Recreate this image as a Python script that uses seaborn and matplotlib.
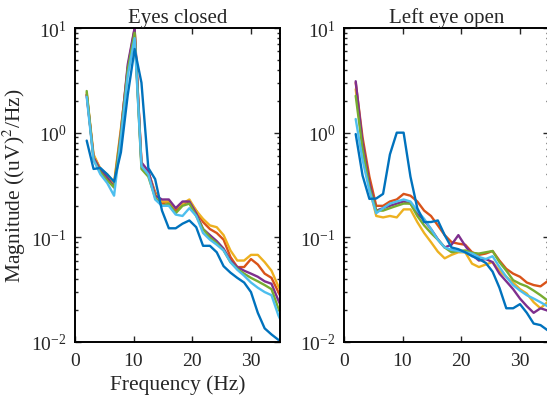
import numpy as np
import pandas as pd
import matplotlib
matplotlib.use("Agg")
import matplotlib.pyplot as plt
import seaborn as sns

freq = [2.0, 3.17, 4.34, 5.51, 6.68, 7.85, 9.02, 10.19, 11.36, 12.53, 13.7, 14.87,
        16.04, 17.21, 18.38, 19.55, 20.72, 21.89, 23.06, 24.23, 25.4, 26.57, 27.74,
        28.91, 30.08, 31.25, 32.42, 33.59, 34.76, 35.93]

# Eyes closed
closed_blue = [0.84, 0.45, 0.46, 0.40, 0.34, 0.65, 2.3, 6.3, 3.0, 0.46, 0.36, 0.18,
               0.122, 0.122, 0.135, 0.145, 0.125, 0.083, 0.083, 0.072, 0.053, 0.046, 0.041,
               0.037, 0.030, 0.019, 0.0135, 0.0118, 0.0105, 0.0095]
closed_orange = [2.3, 0.6, 0.45, 0.38, 0.32, 1.05, 4.2, 9.8, 0.5, 0.42, 0.27, 0.21,
                 0.22, 0.18, 0.21, 0.22, 0.18, 0.14, 0.12, 0.11, 0.095, 0.065, 0.052,
                 0.052, 0.062, 0.055, 0.045, 0.041, 0.030, 0.022]
closed_yellow = [2.4, 0.62, 0.45, 0.40, 0.33, 1.1, 4.0, 9.5, 0.5, 0.42, 0.26, 0.22,
                 0.22, 0.19, 0.21, 0.23, 0.18, 0.15, 0.13, 0.125, 0.105, 0.075, 0.060,
                 0.060, 0.068, 0.068, 0.058, 0.048, 0.034, 0.026]
closed_purple = [2.3, 0.58, 0.44, 0.37, 0.30, 1.0, 4.5, 10.0, 0.52, 0.43, 0.25, 0.23,
                 0.23, 0.19, 0.22, 0.22, 0.17, 0.12, 0.105, 0.092, 0.078, 0.06, 0.052,
                 0.048, 0.045, 0.042, 0.038, 0.036, 0.025, 0.018]
closed_green = [2.5, 0.55, 0.42, 0.35, 0.30, 0.95, 4.0, 9.0, 0.45, 0.38, 0.24, 0.20,
                0.21, 0.17, 0.20, 0.21, 0.16, 0.12, 0.10, 0.088, 0.075, 0.058, 0.05,
                0.045, 0.041, 0.038, 0.035, 0.032, 0.021, 0.015]
closed_lightblue = [2.2, 0.55, 0.40, 0.33, 0.25, 0.9, 3.5, 8.0, 0.48, 0.40, 0.23, 0.20,
                    0.20, 0.165, 0.16, 0.19, 0.16, 0.11, 0.095, 0.085, 0.075, 0.058, 0.049,
                    0.043, 0.037, 0.033, 0.030, 0.028, 0.018, 0.013]

# Left eye open
open_blue = [0.97, 0.39, 0.233, 0.235, 0.26, 0.62, 1.0, 1.0, 0.38, 0.19, 0.14, 0.14,
             0.145, 0.105, 0.08, 0.077, 0.072, 0.066, 0.062, 0.057, 0.047, 0.033, 0.021,
             0.021, 0.023, 0.019, 0.015, 0.0145, 0.013, 0.012]
open_orange = [3.0, 0.9, 0.38, 0.2, 0.2, 0.22, 0.23, 0.26, 0.25, 0.22, 0.18, 0.16,
               0.13, 0.105, 0.09, 0.087, 0.085, 0.072, 0.068, 0.07, 0.074, 0.06, 0.05,
               0.045, 0.042, 0.037, 0.035, 0.034, 0.038, 0.042]
open_yellow = [2.6, 0.75, 0.3, 0.16, 0.155, 0.16, 0.155, 0.185, 0.185, 0.14, 0.11, 0.09,
               0.073, 0.063, 0.068, 0.072, 0.072, 0.056, 0.052, 0.055, 0.058, 0.048, 0.042,
               0.037, 0.032, 0.029, 0.024, 0.021, 0.024, 0.026]
open_purple = [3.1, 0.8, 0.33, 0.18, 0.19, 0.2, 0.21, 0.22, 0.21, 0.17, 0.145, 0.12,
               0.096, 0.08, 0.085, 0.105, 0.083, 0.068, 0.06, 0.062, 0.058, 0.045, 0.038,
               0.032, 0.026, 0.022, 0.019, 0.021, 0.020, 0.020]
open_green = [2.25, 0.7, 0.3, 0.18, 0.18, 0.19, 0.2, 0.21, 0.21, 0.16, 0.13, 0.11,
              0.095, 0.08, 0.072, 0.074, 0.075, 0.071, 0.07, 0.072, 0.074, 0.058, 0.048,
              0.039, 0.036, 0.034, 0.031, 0.028, 0.025, 0.023]
open_lightblue = [1.35, 0.55, 0.28, 0.17, 0.19, 0.21, 0.22, 0.23, 0.22, 0.18, 0.15, 0.12,
                  0.095, 0.08, 0.076, 0.074, 0.072, 0.07, 0.065, 0.062, 0.066, 0.052, 0.042,
                  0.035, 0.031, 0.028, 0.026, 0.024, 0.022, 0.021]

titles = ["Eyes closed", "Left eye open"]
series_names = ["orange", "yellow", "purple", "green", "lightblue", "blue"]
palette = {"blue": (0.0, 0.447, 0.741), "orange": (0.850, 0.325, 0.098),
           "yellow": (0.929, 0.694, 0.125), "purple": (0.494, 0.184, 0.556),
           "green": (0.466, 0.674, 0.188), "lightblue": (0.301, 0.745, 0.933)}
xticks = [0, 10, 20, 30]

panels = [
    {"orange": closed_orange, "yellow": closed_yellow, "purple": closed_purple,
     "green": closed_green, "lightblue": closed_lightblue, "blue": closed_blue},
    {"orange": open_orange, "yellow": open_yellow, "purple": open_purple,
     "green": open_green, "lightblue": open_lightblue, "blue": open_blue},
]

sns.set_style("ticks")
plt.rcParams["font.family"] = ["Liberation Serif", "DejaVu Serif"]
plt.rcParams["mathtext.fontset"] = "stix"
plt.rcParams["xtick.direction"] = "in"
plt.rcParams["ytick.direction"] = "in"

fig = plt.figure(figsize=(5.47, 4.06), dpi=100)
W, H = 547.0, 406.0
ax_w = 204.75 / W
ax_h = 314.0 / H
bottom = (H - 343.0) / H
lefts = [75.0 / W, 344.0 / W]

for i, (title, pdata) in enumerate(zip(titles, panels)):
    ax = fig.add_axes([lefts[i], bottom, ax_w, ax_h])
    rows = []
    for name in series_names:
        for f, v in zip(freq, pdata[name]):
            rows.append({"freq": f, "mag": v, "series": name})
    df = pd.DataFrame(rows)
    sns.lineplot(data=df, x="freq", y="mag", hue="series", hue_order=series_names,
                 palette=palette, estimator=None, sort=False, linewidth=1.7,
                 legend=False, ax=ax)
    ax.set_yscale("log")
    ax.set_xlim(0, 35)
    ax.set_ylim(1e-2, 1e1)
    ax.set_xticks(xticks)
    ax.set_xticklabels([str(t) for t in xticks])
    ax.set_title(title, fontsize=15, pad=4)
    ax.set_xlabel("Frequency (Hz)" if i == 0 else "", fontsize=15.5, labelpad=4)
    ax.set_ylabel("Magnitude ((uV)$^2$/Hz)" if i == 0 else "", fontsize=15.5, labelpad=2)
    ax.tick_params(which="both", top=True, right=True, labelsize=14, width=1.0)
    ax.tick_params(which="major", length=4)
    ax.tick_params(which="minor", length=2.5)
    ax.tick_params(axis="x", pad=7)
    ax.tick_params(axis="y", pad=6)
    for sp in ax.spines.values():
        sp.set_linewidth(1.4)
        sp.set_color("black")

fig.savefig("out.png", dpi=100)
